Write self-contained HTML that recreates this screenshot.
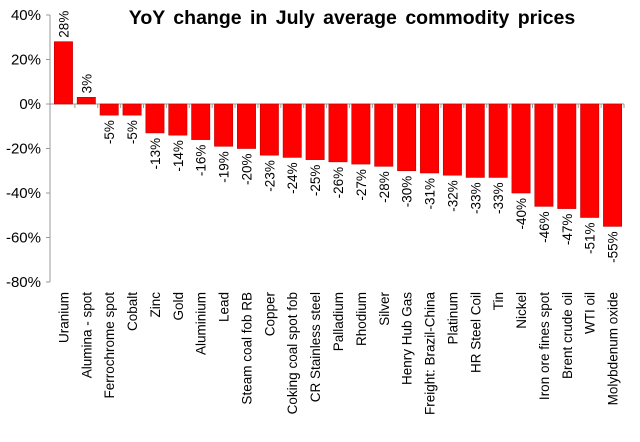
<!DOCTYPE html>
<html><head><meta charset="utf-8"><style>
body{margin:0;background:#fff;width:640px;height:437px;overflow:hidden}
text{font-family:"Liberation Sans",sans-serif}
</style></head><body>
<svg id="c" width="640" height="437" xmlns="http://www.w3.org/2000/svg">
<text x="352" y="24" font-size="19.5" font-weight="bold" word-spacing="3" text-anchor="middle" fill="#000">YoY change in July average commodity prices</text>
</svg>
<script>
const categories=["Uranium","Alumina - spot","Ferrochrome spot","Cobalt","Zinc","Gold","Aluminium","Lead","Steam coal fob RB","Copper","Coking coal spot fob","CR Stainless steel","Palladium","Rhodium","Silver","Henry Hub Gas","Freight: Brazil-China","Platinum","HR Steel Coil","Tin","Nickel","Iron ore fines spot","Brent crude oil","WTI oil","Molybdenum oxide"];
const values=[28,3,-5,-5,-13,-14,-16,-19,-20,-23,-24,-25,-26,-27,-28,-30,-31,-32,-33,-33,-40,-46,-47,-51,-55];
const tickValues=[40,20,0,-20,-40,-60,-80];
const svg=document.getElementById('c');
const NS="http://www.w3.org/2000/svg";
const x0=52,x1=624,n=categories.length,step=(x1-x0)/n,bw=step*0.8;
const y=v=>104-v*2.225;
function mk(t,a){const e=document.createElementNS(NS,t);for(const k in a)e.setAttribute(k,a[k]);svg.appendChild(e);return e;}
let ax=mk('line',{x1:50,x2:50,y1:y(40),y2:y(-80),stroke:'#999','stroke-width':1});


tickValues.forEach(v=>{
 const t=mk('text',{x:41,y:y(v)+5,'font-size':15,'text-anchor':'end',fill:'#000'});
 
 
 t.textContent=v+'%';
 const l=mk('line',{x1:46,x2:50,y1:y(v),y2:y(v),stroke:'#999'});
 
 
});
let zl=mk('line',{x1:50,x2:x1,y1:y(0),y2:y(0),stroke:'#999'});


categories.forEach((c,i)=>{
 const cx=x0+step*(i+0.5),v=values[i];
 const r=mk('rect',{x:cx-bw/2,y:Math.min(y(v),y(0)),width:bw,height:Math.abs(y(v)-y(0)),fill:'#ff0000',stroke:'#c00000','stroke-width':0.6});
 
 
 const tk=mk('line',{x1:x0+step*(i+1),x2:x0+step*(i+1),y1:y(0),y2:y(0)+4,stroke:'#999'});
 
 
 const ly=v>=0?y(v)-4:y(v)+5;
 const vt=mk('text',{x:0,y:0,'font-size':13.5,'text-anchor':v>=0?'start':'end',transform:`translate(${cx+5},${ly}) rotate(-90)`,fill:'#000'});
 
 
 vt.textContent=v+'%';
 const ct=mk('text',{x:0,y:0,'font-size':13.5,'text-anchor':'end',transform:`translate(${cx+5},292) rotate(-90)`,fill:'#000'});
 
 
 ct.textContent=c;
});
</script>
</body></html>
